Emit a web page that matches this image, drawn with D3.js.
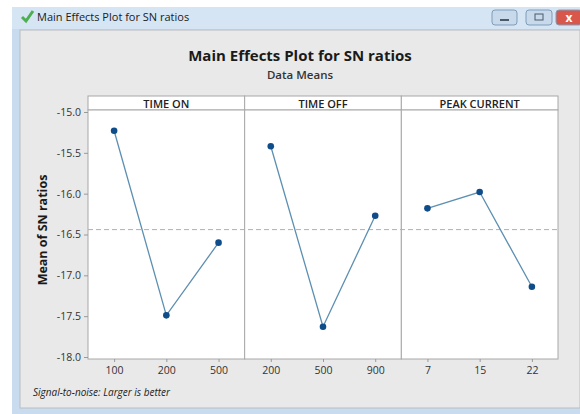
<!DOCTYPE html>
<html lang="en">
<head>
<meta charset="utf-8">
<script src="https://cdn.jsdelivr.net/npm/d3@7"></script>
<style>
    body { margin: 0; background: #ffffff; }
    svg { display: block; font-family: "Open Sans", "DejaVu Sans", sans-serif; }
</style>
</head>
<body>
<div id="chart"></div>
<script>
    // factors and their levels
    var factors = ["TIME ON", "TIME OFF", "PEAK CURRENT"];
    var levels = [["100", "200", "500"], ["200", "500", "900"], ["7", "15", "22"]];
    // mean SN ratio per level
    var snMeans = [[-15.23, -17.49, -16.60], [-15.42, -17.63, -16.27], [-16.18, -15.98, -17.14]];
    var yTicks = [-15.0, -15.5, -16.0, -16.5, -17.0, -17.5, -18.0];
    var grandMean = -16.44;

    var w = 580, h = 414;
    var svg = d3.select("#chart").append("svg")
        .attr("width", w)
        .attr("height", h);

    // window chrome
    svg.append("rect").attr("x", 12).attr("y", 7).attr("width", 568).attr("height", 407).attr("fill", "#c9dcef");
    svg.append("rect").attr("x", 12).attr("y", 7).attr("width", 568).attr("height", 22).attr("fill", "#d6e5f4");
    svg.append("rect").attr("x", 20).attr("y", 30).attr("width", 560).attr("height", 378)
        .attr("fill", "#e9e9e9").attr("stroke", "#b8bcc2");
    svg.append("path").attr("d", "M22,17 L26,21 L33,11")
        .attr("fill", "none").attr("stroke", "#4caf50").attr("stroke-width", 3);
    svg.append("text").attr("x", 37).attr("y", 21).text("Main Effects Plot for SN ratios")
        .attr("font-size", 11).attr("fill", "#1a1a1a");
    // window buttons
    var btns = [{ x: 492, w: 25, fill: "#c7d9ea" }, { x: 526, w: 26, fill: "#c7d9ea" }, { x: 556, w: 26, fill: "#d8574a" }];
    svg.selectAll("rect.btn").data(btns).enter().append("rect")
        .attr("class", "btn")
        .attr("x", function(d) { return d.x; }).attr("y", 10)
        .attr("width", function(d) { return d.w; }).attr("height", 15)
        .attr("rx", 3).attr("fill", function(d) { return d.fill; })
        .attr("stroke", "#7f9db9");
    svg.append("rect").attr("x", 500).attr("y", 19).attr("width", 9).attr("height", 2).attr("fill", "#4a5a6a");
    svg.append("rect").attr("x", 535).attr("y", 14).attr("width", 8).attr("height", 6).attr("fill", "none").attr("stroke", "#4a5a6a");
    svg.append("text").attr("x", 569).attr("y", 22).attr("text-anchor", "middle").text("x")
        .attr("font-size", 12).attr("font-weight", "bold").attr("fill", "#fff");

    // titles
    svg.append("text").attr("x", 300).attr("y", 61).attr("text-anchor", "middle")
        .text("Main Effects Plot for SN ratios")
        .attr("font-size", 15).attr("font-weight", "bold").attr("fill", "#1a1a1a");
    svg.append("text").attr("x", 300).attr("y", 79).attr("text-anchor", "middle")
        .text("Data Means")
        .attr("font-size", 11.5).attr("font-weight", 600).attr("fill", "#333");

    // plot area
    var plotLeft = 88, plotRight = 558, plotTop = 96, headH = 14, plotBottom = 359;
    var y = d3.scaleLinear().domain([-15, -18]).range([112, 357]);
    var panel = d3.scaleBand().domain(factors).range([plotLeft, plotRight]);

    // headers
    svg.selectAll("rect.head").data(factors).enter().append("rect")
        .attr("class", "head")
        .attr("x", function(d) { return panel(d); }).attr("y", plotTop)
        .attr("width", panel.bandwidth()).attr("height", headH)
        .attr("fill", "#fff").attr("stroke", "#a8a8a8");
    svg.selectAll("text.head").data(factors).enter().append("text")
        .attr("class", "head")
        .attr("x", function(d) { return panel(d) + panel.bandwidth() / 2; })
        .attr("y", plotTop + 11.5).attr("text-anchor", "middle")
        .text(function(d) { return d; })
        .attr("font-size", 11).attr("font-weight", 600).attr("fill", "#222");

    svg.selectAll("rect.panel").data(factors).enter().append("rect")
        .attr("class", "panel")
        .attr("x", function(d) { return panel(d); }).attr("y", plotTop + headH)
        .attr("width", panel.bandwidth()).attr("height", plotBottom - plotTop - headH)
        .attr("fill", "#fff").attr("stroke", "#a8a8a8");

    // y axis
    var yAxis = svg.append("g").attr("transform", "translate(" + plotLeft + ",0)")
        .call(d3.axisLeft(y).tickValues(yTicks).tickSize(4).tickSizeOuter(0));
    yAxis.select(".domain").remove();
    yAxis.selectAll("line").attr("stroke", "#999");
    yAxis.selectAll("text").attr("font-size", 10.5).attr("fill", "#333")
        .attr("font-family", "\"Open Sans\", sans-serif")
        .text(function(d) { return d.toFixed(1); });

    svg.append("text").attr("transform", "translate(47,230) rotate(-90)")
        .attr("text-anchor", "middle").text("Mean of SN ratios")
        .attr("font-size", 12.5).attr("font-weight", "bold").attr("fill", "#1a1a1a");

    // reference line at grand mean
    svg.append("line").attr("x1", plotLeft).attr("x2", plotRight)
        .attr("y1", y(grandMean)).attr("y2", y(grandMean))
        .attr("stroke", "#b0b0b0").attr("stroke-dasharray", "5,3");

    // each factor panel
    factors.forEach(function(f, i) {
        var x = d3.scalePoint().domain(levels[i])
            .range([panel(f), panel(f) + panel.bandwidth()]).padding(0.5);
        var pts = levels[i].map(function(l, j) { return { level: l, value: snMeans[i][j] }; });

        var xAxis = svg.append("g").attr("transform", "translate(0," + plotBottom + ")")
            .call(d3.axisBottom(x).tickSize(3).tickPadding(5));
        xAxis.select(".domain").remove();
        xAxis.selectAll("line").attr("stroke", "#999");
        xAxis.selectAll("text").attr("font-size", 10.5).attr("fill", "#333")
            .attr("font-family", "\"Open Sans\", sans-serif");

        svg.append("path").datum(pts)
            .attr("d", d3.line()
                .x(function(d) { return x(d.level); })
                .y(function(d) { return y(d.value); }))
            .attr("fill", "none").attr("stroke", "#5d8fb1").attr("stroke-width", 1.3);

        svg.selectAll("circle.p" + i).data(pts).enter().append("circle")
            .attr("class", "p" + i)
            .attr("cx", function(d) { return x(d.level); })
            .attr("cy", function(d) { return y(d.value); })
            .attr("r", 3.3).attr("fill", "#0f4c8a");
    });

    // footnote
    svg.append("text").attr("x", 33).attr("y", 396)
        .text("Signal-to-noise: Larger is better")
        .attr("font-size", 10).attr("font-style", "italic").attr("fill", "#222");
</script>
</body>
</html>
